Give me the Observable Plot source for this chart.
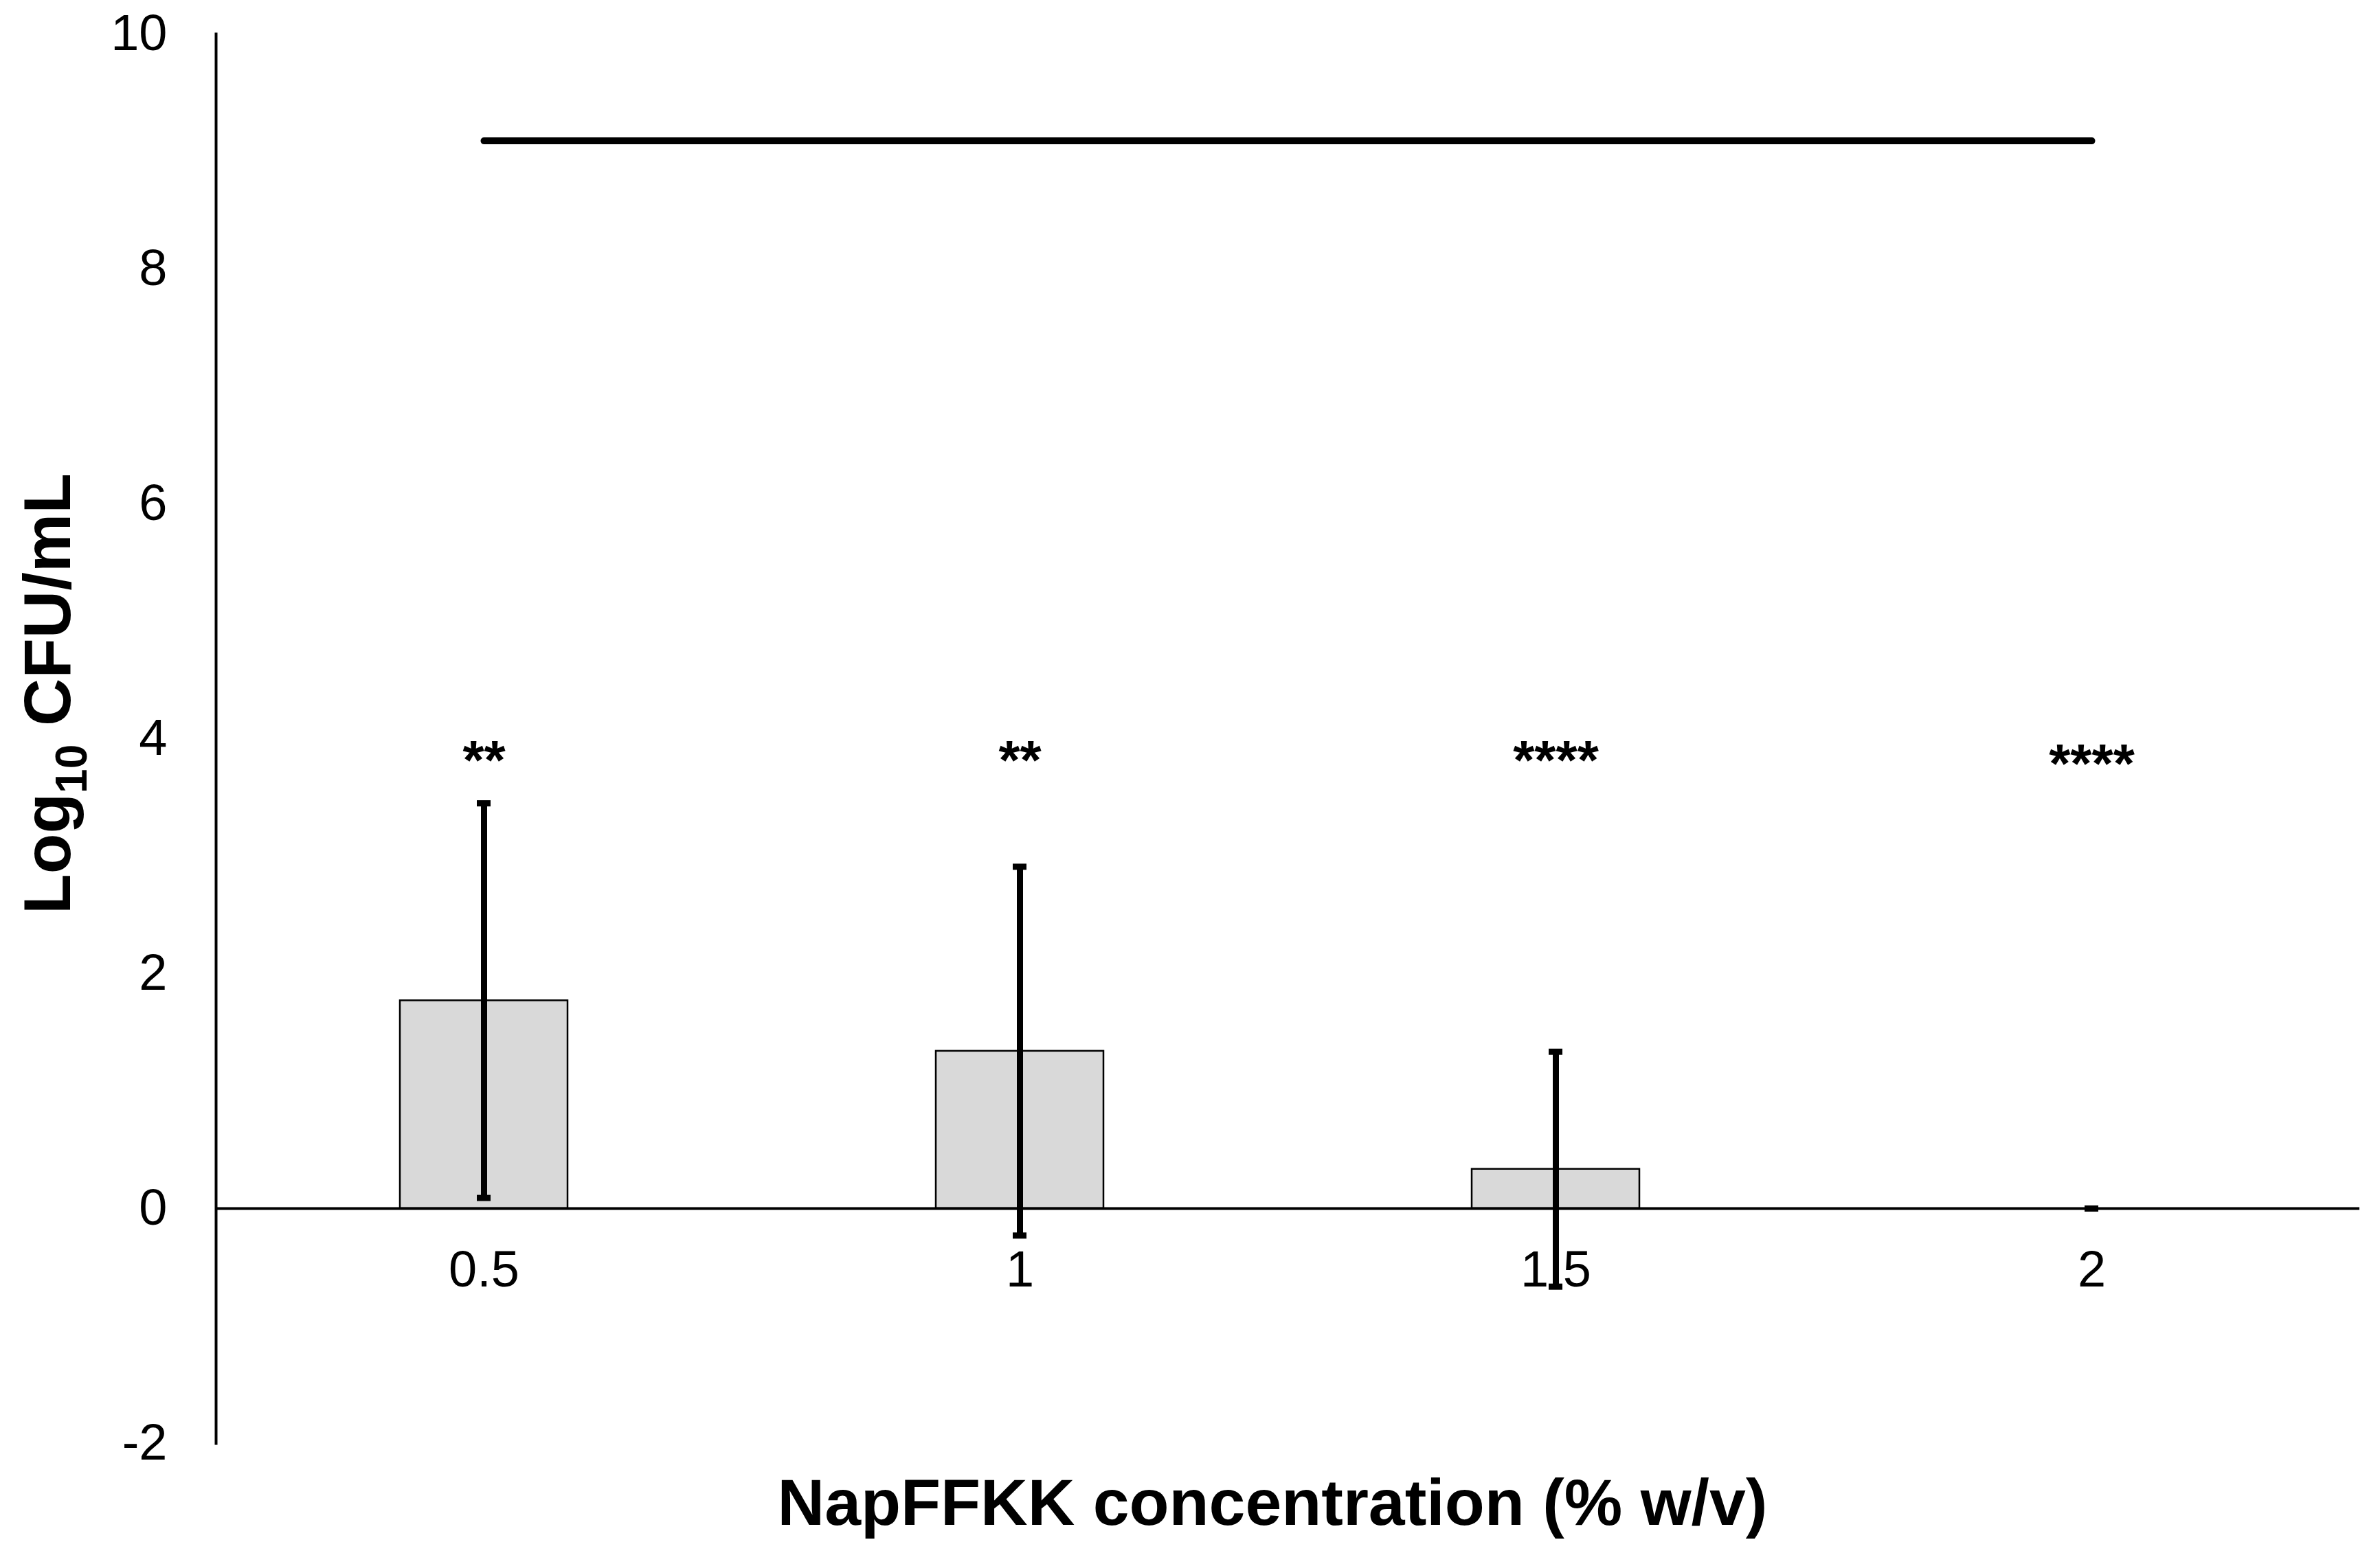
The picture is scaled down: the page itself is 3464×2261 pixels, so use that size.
<!DOCTYPE html>
<html><head><meta charset="utf-8">
<script src="https://cdn.jsdelivr.net/npm/d3@7"></script>
<script src="https://cdn.jsdelivr.net/npm/@observablehq/plot@0.6"></script>
<style>html,body{margin:0;padding:0;background:#fff;}</style>
</head><body><div id="chart"></div>
<script>
// ---- data ----
const concentrations = ["0.5", "1", "1.5", "2"];
const meanLog = [1.77, 1.34, 0.335, 0];
const sdLog = [1.68, 1.57, 1.0, 0];
const significance = ["**", "**", "****", "****"];
const sigHeight = [3.81, 3.81, 3.81, 3.78];
const controlLevel = 9.09;
const yTicks = [-2, 0, 2, 4, 6, 8, 10];

const rows = concentrations.map((c, i) => ({
  c, mean: meanLog[i], lo: meanLog[i] - sdLog[i], hi: meanLog[i] + sdLog[i],
  sig: significance[i], sy: sigHeight[i]
}));
const control = [
  {c: concentrations[0], v: controlLevel},
  {c: concentrations[concentrations.length - 1], v: controlLevel}
];

const W = 3464, H = 2261;
const FONT = "'Liberation Sans', Arial, sans-serif";

const plot = Plot.plot({
  width: W, height: H,
  marginTop: 49, marginBottom: 160, marginLeft: 314, marginRight: 30,
  style: {fontFamily: FONT, background: "white", color: "black"},
  x: {type: "band", domain: concentrations, padding: 0, axis: null},
  y: {domain: [-2, 10], axis: null},
  marks: [
    Plot.axisY(yTicks, {tickSize: 0, tickPadding: 71, fontSize: 74, label: null, tickFormat: d => String(d)}),
    Plot.frame({anchor: "left", stroke: "black", strokeWidth: 4}),
    Plot.text(rows, {x: "c", y: () => 0, text: "c", dy: 90, fontSize: 74}),
    Plot.barY(rows, {x: "c", y: "mean", fill: "#d9d9d9", stroke: "black", strokeWidth: 2.5, insetLeft: 268, insetRight: 268}),
    Plot.ruleY([0], {stroke: "black", strokeWidth: 4}),
    Plot.ruleX(rows, {x: "c", y1: "lo", y2: "hi", stroke: "black", strokeWidth: 9}),
    Plot.tickY(rows, {x: "c", y: "hi", stroke: "black", strokeWidth: 9, insetLeft: 380, insetRight: 380}),
    Plot.tickY(rows, {x: "c", y: "lo", stroke: "black", strokeWidth: 9, insetLeft: 380, insetRight: 380}),
    Plot.line(control, {x: "c", y: "v", stroke: "black", strokeWidth: 10, strokeLinecap: "round"}),
    Plot.text(rows, {x: "c", y: "sy", text: "sig", fontSize: 80, fontWeight: "bold"})
  ]
});

const svg = d3.select(plot);
svg.append("text")
  .attr("x", 1852).attr("y", 2220)
  .attr("text-anchor", "middle")
  .attr("font-family", FONT).attr("font-weight", "bold").attr("font-size", 95)
  .attr("fill", "black")
  .text("NapFFKK concentration (% w/v)");

const yl = svg.append("text")
  .attr("transform", "translate(102,1010) rotate(-90)")
  .attr("text-anchor", "middle")
  .attr("font-family", FONT).attr("font-weight", "bold").attr("font-size", 96)
  .attr("fill", "black");
yl.append("tspan").text("Log");
yl.append("tspan").attr("font-size", 64).attr("dy", 24).text("10");
yl.append("tspan").attr("dy", -24).text(" CFU/mL");

document.getElementById("chart").appendChild(plot);
</script>
</body></html>
